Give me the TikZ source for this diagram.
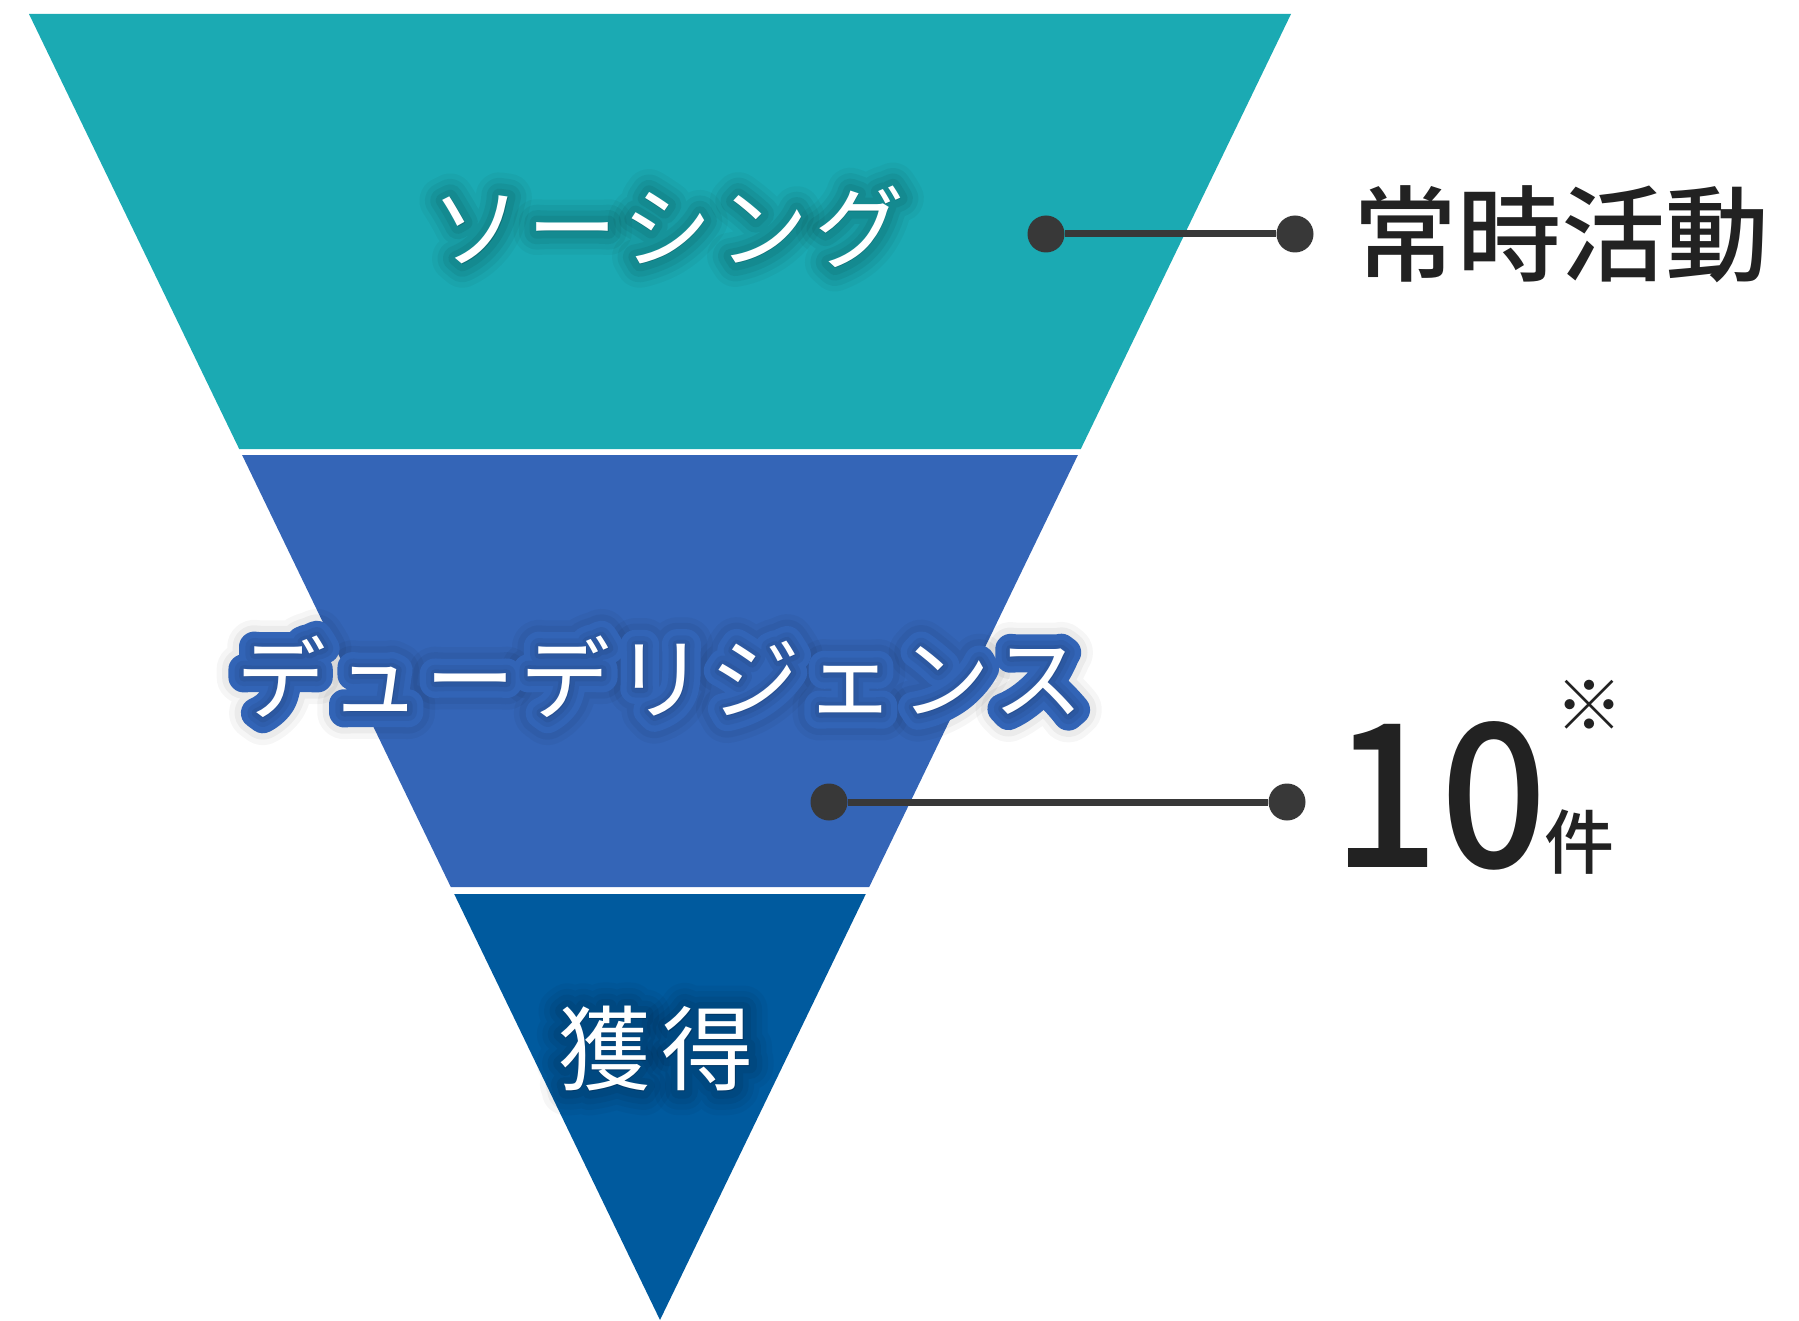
\documentclass[tikz,border=0pt]{standalone}
\usepackage{fontspec}
\newfontfamily\jp{Noto Sans CJK JP}
\IfFontExistsTF{Noto Sans CJK JP Medium}
  {\newfontfamily\jpm{Noto Sans CJK JP Medium}}
  {\newfontfamily\jpm{Noto Sans CJK JP}[FakeBold=2]}
\definecolor{bandA}{HTML}{1BAAB3}
\definecolor{bandB}{HTML}{3465B7}
\definecolor{bandC}{HTML}{005A9E}
\definecolor{dotc}{HTML}{383838}
\definecolor{inkc}{HTML}{222222}
\definecolor{rimc}{HTML}{3264B6}
% one stroked copy of a text, behind the text itself
\newcommand\txtlayer[4]{\rlap{\addfontfeatures{FakeBold=#1}\pgfsetfillopacity{#3}\pgfsetstrokeopacity{#3}\textcolor{#2}{#4}}}
\newcommand\plain[1]{\pgfsetfillopacity{1}\pgfsetstrokeopacity{1}#1}
\newcommand\softglow[1]{%
  \txtlayer{52}{black}{0.035}{#1}\txtlayer{40}{black}{0.045}{#1}%
  \txtlayer{28}{black}{0.055}{#1}\txtlayer{16}{black}{0.06}{#1}%
  \plain{#1}}
\newcommand\rimglow[1]{%
  \txtlayer{60}{black}{0.035}{#1}\txtlayer{48}{black}{0.045}{#1}%
  \txtlayer{34}{rimc}{1}{#1}%
  \txtlayer{20}{black}{0.05}{#1}\txtlayer{10}{black}{0.06}{#1}%
  \plain{#1}}
\tikzset{
  dotnode/.style={circle,fill=dotc,minimum size=37bp,inner sep=0pt},
  conn/.style={draw=dotc,line width=7bp},
  lab/.style={inner sep=0pt,text=white,font=\jp\fontsize{90bp}{90bp}\selectfont},
  big/.style={inner sep=0pt,text=inkc}
}
\begin{document}
\begin{tikzpicture}[x=1bp,y=-1bp,line join=round]
\useasboundingbox (0,0) rectangle (1799,1321);
\fill[white] (0,0) rectangle (1799,1321);
% bands
\fill[bandA] (29,14) -- (1291,14) -- (1080.8,449) -- (239.2,449) -- cycle;
\fill[bandB] (242.1,455) -- (1077.9,455) -- (869.2,887) -- (450.8,887) -- cycle;
\fill[bandC] (454.2,894) -- (865.8,894) -- (660,1320) -- cycle;
% labels
\node[lab] (s1) at (668,227) {\addfontfeatures{LetterSpace=6.7}\softglow{ソーシング}};
\node[lab] (s2) at (660,677) {\addfontfeatures{LetterSpace=5.5}\rimglow{デューデリジェンス}};
\node[lab,font=\jp\fontsize{92bp}{92bp}\selectfont] (s3) at (656,1049) {\addfontfeatures{LetterSpace=13}\softglow{獲得}};
% connectors
\node[dotnode] (d1a) at (1046,234) {};
\node[dotnode] (d1b) at (1295,234) {};
\draw[conn] (d1a) -- (d1b);
\node[dotnode] (d2a) at (829,802) {};
\node[dotnode] (d2b) at (1287,802) {};
\draw[conn] (d2a) -- (d2b);
% right texts
\node[big,font=\jpm\fontsize{104bp}{104bp}\selectfont] (t1) at (1561,234) {常時活動};
\node[big,font=\jpm\fontsize{200bp}{200bp}\selectfont] (t2) at (1440,796) {\scalebox{0.94}[1]{10}};
\node[big,font=\jpm\fontsize{70bp}{70bp}\selectfont] (t3) at (1579,842) {件};
\node[big,font=\jp\fontsize{68bp}{68bp}\selectfont] (t4) at (1589,705) {※};
\end{tikzpicture}
\end{document}
